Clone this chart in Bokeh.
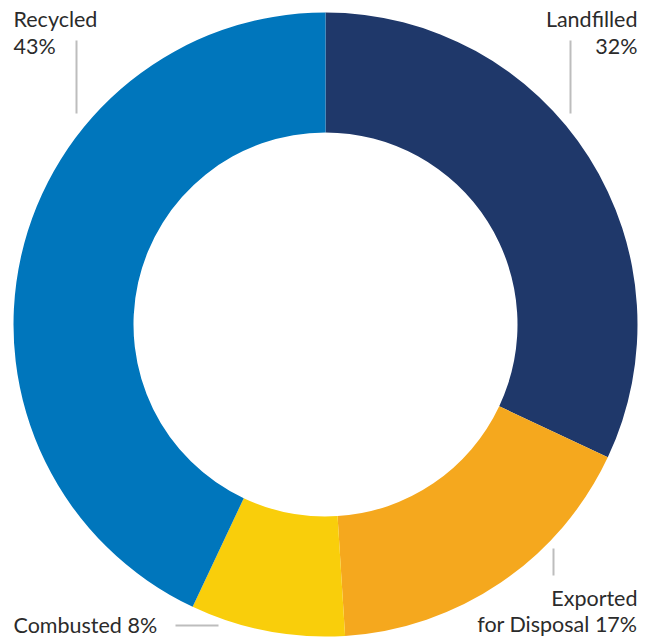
from math import pi
from bokeh.plotting import figure
from bokeh.models import Range1d, ColumnDataSource
from bokeh.core.properties import value
from bokeh.embed import file_html
from bokeh.resources import INLINE

# ---- data ----
categories = ["Landfilled", "Exported for Disposal", "Combusted", "Recycled"]
shares = [32, 17, 8, 43]
colors = ["#1f386a", "#f5a81e", "#f9ce0b", "#0076bc"]

# ---- wedge angles (clockwise from 12 o'clock) ----
total = float(sum(shares))
starts, ends = [], []
cum = 0.0
for s in shares:
    starts.append(pi / 2 - 2 * pi * cum / total)
    cum += s
    ends.append(pi / 2 - 2 * pi * cum / total)

src = ColumnDataSource(dict(cat=categories, share=shares, color=colors,
                            start=starts, end=ends))

W, H = 654, 639
CX, CY = 325, 324
p = figure(width=W, height=H, output_backend="svg", toolbar_location=None,
           x_range=Range1d(0 - CX, W - CX), y_range=Range1d(CY - H, CY),
           min_border=0, outline_line_color=None)
p.axis.visible = False
p.grid.visible = False
p.background_fill_color = "white"
p.border_fill_color = "white"

p.annular_wedge(x=0, y=0, inner_radius=192, outer_radius=312,
                start_angle="start", end_angle="end", direction="clock",
                color="color", line_color=None, source=src)

def X(sx):
    return sx - CX

SHIFT = 8  # rendered baseline sits lower than requested

def Y(sy):
    return CY - (sy - SHIFT)

def YL(sy):
    return CY - sy

font = value("Lato")
tc = "#2b2b2b"
fs = "21.5px"

lab_left = dict(x=[X(13), X(13), X(13)], y=[Y(26), Y(53), Y(632)],
                t=["Recycled", "43%", "Combusted 8%"])
lab_right = dict(x=[X(637), X(637), X(637), X(637)],
                 y=[Y(26), Y(53), Y(605), Y(631)],
                 t=["Landfilled", "32%", "Exported", "for Disposal 17%"])

p.text(x="x", y="y", text="t", source=ColumnDataSource(lab_left),
       text_font=font, text_font_size=fs, text_color=tc,
       text_align="left", text_baseline="alphabetic")
p.text(x="x", y="y", text="t", source=ColumnDataSource(lab_right),
       text_font=font, text_font_size=fs, text_color=tc,
       text_align="right", text_baseline="alphabetic")

p.segment(x0=[X(76), X(570), X(553), X(175)],
          y0=[YL(40), YL(40), YL(548), YL(625)],
          x1=[X(76), X(570), X(553), X(218)],
          y1=[YL(113), YL(113), YL(575), YL(625)],
          line_color="#bdbdbd", line_width=2)

open("out.html", "w").write(file_html(p, INLINE))
